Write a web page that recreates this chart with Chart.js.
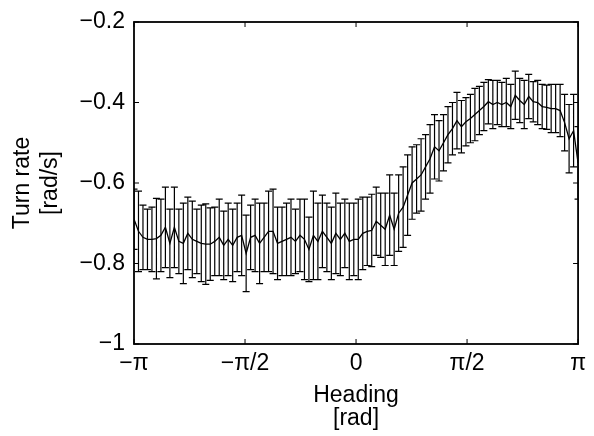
<!DOCTYPE html>
<html>
<head>
<meta charset="utf-8">
<script src="https://cdn.jsdelivr.net/npm/chart.js@4.4.0/dist/chart.umd.min.js"></script>
<style>
html, body { margin: 0; padding: 0; background: #fff; }
</style>
</head>
<body>
<canvas id="grafico" width="594" height="436"></canvas>
<script>
// heading bins: 100 points from -pi to pi
const nBins = 100;
const headings = Array.from({ length: nBins }, (_, i) => -Math.PI + i * 2 * Math.PI / (nBins - 1));

// mean turn rate per bin (rad/s)
const turnRate = [
    -0.690, -0.720, -0.735, -0.740, -0.740, -0.738, -0.730, -0.710, -0.750, -0.710,
    -0.745, -0.750, -0.725, -0.740, -0.745, -0.750, -0.752, -0.752, -0.745, -0.735,
    -0.755, -0.740, -0.755, -0.735, -0.730, -0.775, -0.735, -0.730, -0.750, -0.735,
    -0.720, -0.720, -0.750, -0.745, -0.740, -0.735, -0.745, -0.730, -0.740, -0.765,
    -0.730, -0.745, -0.720, -0.735, -0.750, -0.725, -0.740, -0.725, -0.745, -0.740,
    -0.740, -0.725, -0.720, -0.718, -0.695, -0.705, -0.715, -0.680, -0.715, -0.675,
    -0.660, -0.630, -0.600, -0.590, -0.580, -0.560, -0.540, -0.510, -0.520, -0.500,
    -0.480, -0.465, -0.445, -0.460, -0.448, -0.440, -0.430, -0.420, -0.410, -0.398,
    -0.405, -0.400, -0.405, -0.400, -0.410, -0.382, -0.395, -0.405, -0.385, -0.398,
    -0.400, -0.410, -0.412, -0.415, -0.415, -0.420, -0.450, -0.490, -0.470, -0.550
];

// error bar half-length per bin
const turnErr = [
    0.075, 0.100, 0.080, 0.075, 0.080, 0.100, 0.090, 0.100, 0.085, 0.100,
    0.080, 0.100, 0.090, 0.095, 0.080, 0.095, 0.100, 0.090, 0.085, 0.095,
    0.085, 0.090, 0.090, 0.085, 0.100, 0.095, 0.080, 0.090, 0.100, 0.085,
    0.100, 0.105, 0.090, 0.085, 0.090, 0.095, 0.080, 0.090, 0.100, 0.080,
    0.110, 0.095, 0.090, 0.085, 0.090, 0.100, 0.090, 0.085, 0.095, 0.090,
    0.100, 0.090, 0.085, 0.090, 0.085, 0.080, 0.090, 0.100, 0.090, 0.095,
    0.100, 0.100, 0.090, 0.085, 0.090, 0.080, 0.085, 0.080, 0.075, 0.070,
    0.070, 0.065, 0.070, 0.065, 0.060, 0.060, 0.065, 0.060, 0.060, 0.055,
    0.060, 0.055, 0.055, 0.060, 0.055, 0.060, 0.055, 0.060, 0.055, 0.050,
    0.055, 0.055, 0.055, 0.060, 0.060, 0.065, 0.070, 0.085, 0.090, 0.090
];

const xTicks = [-Math.PI, -Math.PI / 2, 0, Math.PI / 2, Math.PI];
const xTickLabels = ['\u2212\u03c0', '\u2212\u03c0/2', '0', '\u03c0/2', '\u03c0'];
const yTicks = [-1, -0.8, -0.6, -0.4, -0.2];
const yTickLabels = ['\u22121', '\u22120.8', '\u22120.6', '\u22120.4', '\u22120.2'];

const familia = "'Liberation Sans', Arial, Helvetica, sans-serif";
const fuente = { family: familia, size: 23, lineHeight: 1.0 };
const fuenteY = { family: familia, size: 23, lineHeight: 1.2 };

// error bars + axes box with inward ticks (matlab style)
const barrasError = {
    id: 'barrasError',
    afterDatasetsDraw(chart) {
        const ctx = chart.ctx;
        const sx = chart.scales.x, sy = chart.scales.y;
        const a = chart.chartArea;
        ctx.save();
        ctx.beginPath();
        ctx.rect(a.left, a.top, a.right - a.left, a.bottom - a.top);
        ctx.clip();
        ctx.strokeStyle = '#000';
        ctx.lineWidth = 1.2;
        ctx.beginPath();
        headings.forEach((h, i) => {
            const px = sx.getPixelForValue(h);
            const arriba = sy.getPixelForValue(turnRate[i] + turnErr[i]);
            const abajo = sy.getPixelForValue(turnRate[i] - turnErr[i]);
            ctx.moveTo(px, arriba); ctx.lineTo(px, abajo);
            ctx.moveTo(px - 3.5, arriba); ctx.lineTo(px + 3.5, arriba);
            ctx.moveTo(px - 3.5, abajo); ctx.lineTo(px + 3.5, abajo);
        });
        ctx.stroke();
        ctx.restore();

        ctx.save();
        ctx.strokeStyle = '#000';
        ctx.lineWidth = 1.8;
        ctx.strokeRect(a.left, a.top, a.right - a.left, a.bottom - a.top);
        ctx.lineWidth = 1;
        ctx.beginPath();
        xTicks.forEach(v => {
            const px = sx.getPixelForValue(v);
            ctx.moveTo(px, a.bottom); ctx.lineTo(px, a.bottom - 5);
            ctx.moveTo(px, a.top); ctx.lineTo(px, a.top + 5);
        });
        yTicks.forEach(v => {
            const py = sy.getPixelForValue(v);
            ctx.moveTo(a.left, py); ctx.lineTo(a.left + 5, py);
            ctx.moveTo(a.right, py); ctx.lineTo(a.right - 5, py);
        });
        ctx.stroke();
        ctx.restore();
    }
};

const ctx = document.getElementById('grafico').getContext('2d');
const grafico = new Chart(ctx, {
    type: 'line',
    data: {
        datasets: [{
            label: 'Turn rate',
            data: headings.map((h, i) => ({ x: h, y: turnRate[i] })),
            borderColor: '#000',
            borderWidth: 1.3,
            pointRadius: 0,
            fill: false,
            tension: 0
        }]
    },
    options: {
        responsive: false,
        animation: false,
        layout: { padding: { top: 22, right: 10, left: 0, bottom: 0 } },
        plugins: {
            legend: { display: false },
            tooltip: { enabled: false }
        },
        scales: {
            x: {
                type: 'linear',
                min: -Math.PI,
                max: Math.PI,
                grid: { display: false, drawTicks: false },
                border: { display: false },
                afterBuildTicks: s => { s.ticks = xTicks.map(v => ({ value: v })); },
                afterFit: s => { s.height = 92; },
                ticks: {
                    color: '#000',
                    font: fuente,
                    padding: 8,
                    maxRotation: 0,
                    autoSkip: false,
                    callback: (v, i) => xTickLabels[i]
                },
                title: {
                    display: true,
                    text: ['Heading', '[rad]'],
                    color: '#000',
                    font: fuente,
                    padding: { top: 0, bottom: 6 }
                }
            },
            y: {
                min: -1,
                max: -0.2,
                grid: { display: false, drawTicks: false },
                border: { display: false },
                afterBuildTicks: s => { s.ticks = yTicks.map(v => ({ value: v })); },
                afterFit: s => { s.width = 134; },
                ticks: {
                    color: '#000',
                    font: fuente,
                    padding: 9,
                    callback: (v, i) => yTickLabels[i]
                },
                title: {
                    display: true,
                    text: ['Turn rate', '[rad/s]'],
                    color: '#000',
                    font: fuenteY,
                    padding: { top: 9, bottom: 0 }
                }
            }
        }
    },
    plugins: [barrasError]
});
</script>
</body>
</html>
